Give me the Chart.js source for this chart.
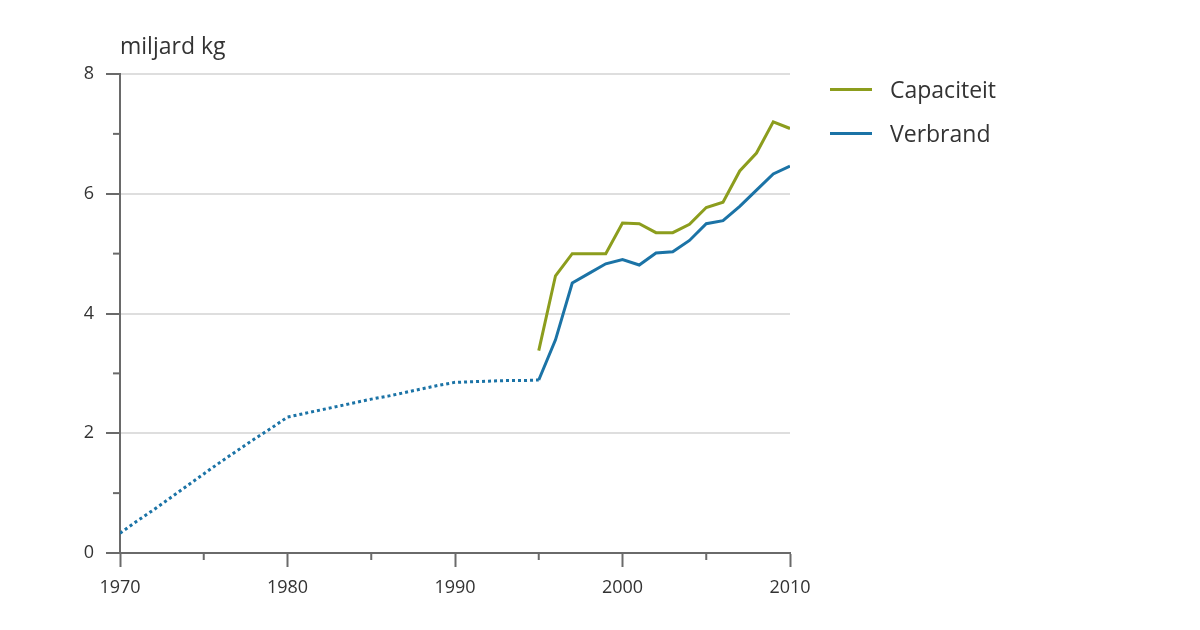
<!DOCTYPE html>
<html>
<head>
<meta charset="utf-8">
<script src="https://cdn.jsdelivr.net/npm/chart.js@4/dist/chart.umd.min.js"></script>
<style>
  body { margin: 0; background: #fff; }
  #wrap { position: relative; width: 1200px; height: 630px; }
  #legend { position: absolute; left: 830px; top: 67px; font-family: "Open Sans", sans-serif; font-size: 23px; color: #333; }
  .item { display: flex; align-items: center; height: 44px; }
  .swatch { width: 42px; height: 3px; margin-right: 18px; }
</style>
</head>
<body>
<div id="wrap">
  <canvas id="chart" width="1200" height="630"></canvas>
  <div id="legend"></div>
</div>
<script>
const years = [1970, 1971, 1972, 1973, 1974, 1975, 1976, 1977, 1978, 1979,
               1980, 1981, 1982, 1983, 1984, 1985, 1986, 1987, 1988, 1989,
               1990, 1991, 1992, 1993, 1994, 1995, 1996, 1997, 1998, 1999,
               2000, 2001, 2002, 2003, 2004, 2005, 2006, 2007, 2008, 2009, 2010];

const verbrand = [0.33, 0.53, 0.72, 0.92, 1.12, 1.32, 1.52, 1.71, 1.90, 2.08,
                  2.27, 2.33, 2.39, 2.45, 2.51, 2.57, 2.62, 2.68, 2.74, 2.80,
                  2.85, 2.86, 2.87, 2.88, 2.88, 2.89, 3.56, 4.51, 4.67, 4.83,
                  4.90, 4.81, 5.01, 5.03, 5.22, 5.50, 5.55, 5.79, 6.06, 6.33, 6.46];

const capaciteit = [null, null, null, null, null, null, null, null, null, null,
                    null, null, null, null, null, null, null, null, null, null,
                    null, null, null, null, null, 3.38, 4.63, 5.00, 5.00, 5.00,
                    5.51, 5.50, 5.35, 5.35, 5.49, 5.77, 5.86, 6.38, 6.68, 7.20, 7.09];

const lastEstimatedYear = 1995;
const minorX = [1975, 1985, 1995, 2005];
const minorY = [1, 3, 5, 7];

const green = '#8c9d1d';
const blue = '#1b73a6';
const axisColor = '#6a6a6a';
const font = '"Open Sans", sans-serif';

function toPoints(values) {
  return years.map((y, i) => ({ x: y, y: values[i] }));
}

const extras = {
  id: 'extras',
  afterDraw(chart) {
    const ctx = chart.ctx;
    const xs = chart.scales.x;
    const ys = chart.scales.y;
    const area = chart.chartArea;
    ctx.save();
    ctx.strokeStyle = axisColor;
    ctx.lineWidth = 2;
    minorX.forEach(v => {
      const px = xs.getPixelForValue(v);
      ctx.beginPath();
      ctx.moveTo(px, area.bottom);
      ctx.lineTo(px, area.bottom + 7);
      ctx.stroke();
    });
    minorY.forEach(v => {
      const py = ys.getPixelForValue(v);
      ctx.beginPath();
      ctx.moveTo(area.left, py);
      ctx.lineTo(area.left - 7, py);
      ctx.stroke();
    });
    ctx.fillStyle = '#333';
    ctx.font = '23px ' + font;
    ctx.textBaseline = 'alphabetic';
    ctx.fillText('miljard kg', area.left, area.top - 20);
    ctx.restore();
  }
};

const chart = new Chart(document.getElementById('chart'), {
  type: 'line',
  data: {
    datasets: [
      {
        label: 'Capaciteit',
        data: toPoints(capaciteit),
        borderColor: green,
        backgroundColor: green,
        borderWidth: 3,
        pointRadius: 0,
        tension: 0,
        spanGaps: false
      },
      {
        label: 'Verbrand',
        data: toPoints(verbrand),
        borderColor: blue,
        backgroundColor: blue,
        borderWidth: 3,
        pointRadius: 0,
        tension: 0,
        borderCapStyle: 'butt',
        segment: {
          borderDash: c => years[c.p1DataIndex] <= lastEstimatedYear ? [3, 3] : undefined
        }
      }
    ]
  },
  options: {
    responsive: false,
    animation: false,
    devicePixelRatio: 1,
    layout: { padding: { top: 74, left: 0, right: 410, bottom: 0 } },
    plugins: {
      legend: { display: false },
      tooltip: { enabled: false }
    },
    scales: {
      x: {
        type: 'linear',
        min: 1970,
        max: 2010,
        afterFit: s => { s.height = 77; },
        ticks: {
          stepSize: 10,
          padding: 10,
          color: '#333',
          font: { family: font, size: 18 },
          callback: v => String(v)
        },
        grid: {
          drawOnChartArea: false,
          tickLength: 14,
          tickColor: axisColor,
          tickWidth: 2
        },
        border: { color: axisColor, width: 2 }
      },
      y: {
        min: 0,
        max: 8,
        afterFit: s => { s.width = 120; },
        ticks: {
          stepSize: 2,
          padding: 12,
          color: '#333',
          font: { family: font, size: 18 }
        },
        grid: {
          color: '#dedede',
          lineWidth: 2,
          tickLength: 14,
          tickColor: axisColor,
          tickWidth: 2
        },
        border: { color: axisColor, width: 2 }
      }
    }
  },
  plugins: [extras]
});

const legend = document.getElementById('legend');
chart.data.datasets.forEach(ds => {
  const item = document.createElement('div');
  item.className = 'item';
  const sw = document.createElement('span');
  sw.className = 'swatch';
  sw.style.background = ds.borderColor;
  const tx = document.createElement('span');
  tx.textContent = ds.label;
  item.appendChild(sw);
  item.appendChild(tx);
  legend.appendChild(item);
});
</script>
</body>
</html>
